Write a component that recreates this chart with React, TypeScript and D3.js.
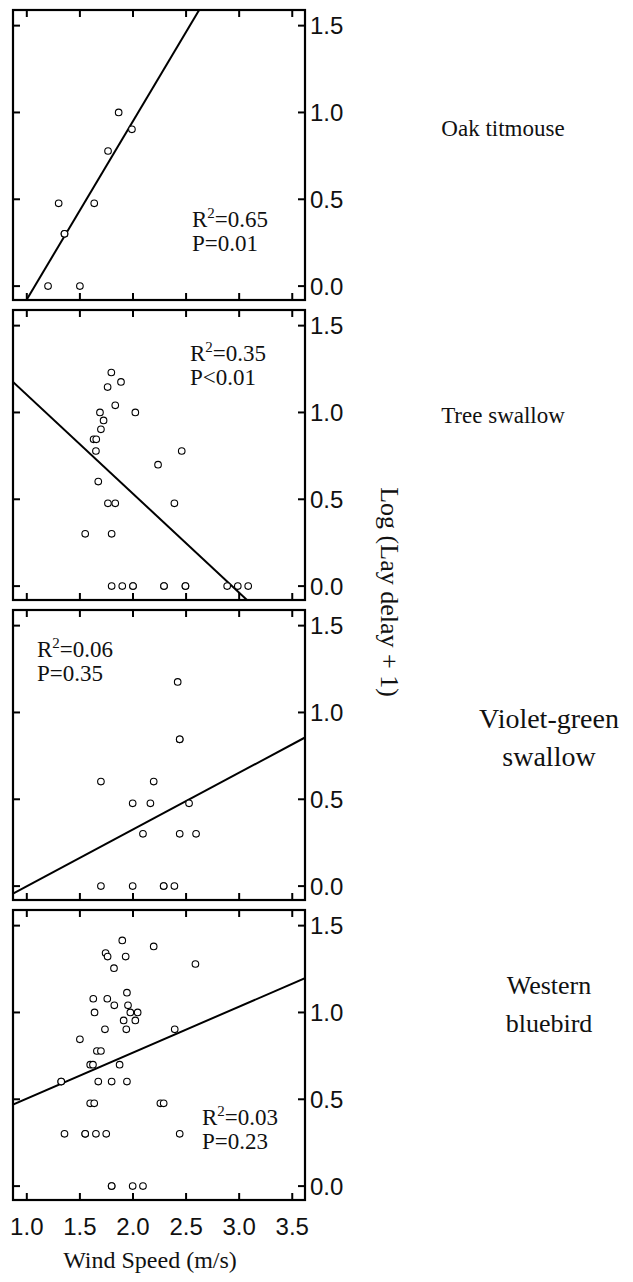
import React from 'react';
import * as d3 from 'd3';

// log(lay delay + 1) against wind speed, one panel per species
const species = ['Oak titmouse', 'Tree swallow', 'Violet-green swallow', 'Western bluebird'];
const labelLines = [['Oak titmouse'], ['Tree swallow'], ['Violet-green', 'swallow'], ['Western', 'bluebird']];

const oakX = [1.2, 1.5, 1.3, 1.635, 1.355, 1.355, 1.765, 1.865, 1.99];
const oakY = [0, 0, 0.477, 0.477, 0.301, 0.301, 0.778, 1.0, 0.903];

const treeX = [1.796, 1.887, 1.761, 1.833, 1.689, 2.022, 1.723, 1.698, 1.629, 1.654,
  1.651, 2.459, 2.236, 1.673, 1.764, 1.833, 2.39, 1.55, 1.799,
  1.799, 1.899, 2.0, 2.0, 2.292, 2.292, 2.494, 2.494, 2.887, 2.987, 3.085];
const treeY = [1.23, 1.176, 1.146, 1.041, 1.0, 1.0, 0.954, 0.903, 0.845, 0.845,
  0.778, 0.778, 0.699, 0.602, 0.477, 0.477, 0.477, 0.301, 0.301,
  0, 0, 0, 0, 0, 0, 0, 0, 0, 0, 0];

const vgX = [2.421, 2.44, 2.44, 1.698, 2.195, 1.997, 2.164, 2.528, 2.094, 2.44, 2.594, 1.698, 1.997, 2.289, 2.289, 2.39];
const vgY = [1.176, 0.845, 0.845, 0.602, 0.602, 0.477, 0.477, 0.477, 0.301, 0.301, 0.301, 0, 0, 0, 0, 0];

const wbX = [1.899, 2.195, 1.742, 1.761, 1.931, 2.588, 1.821, 1.943, 1.626, 1.758,
  1.824, 1.953, 1.638, 1.975, 2.044, 1.912, 2.022, 1.736, 1.937, 2.393,
  1.5, 1.66, 1.698, 1.597, 1.623, 1.874, 1.324, 1.324, 1.673, 1.799,
  1.943, 1.597, 1.635, 2.258, 2.289, 1.355, 1.55, 1.55, 1.651, 1.748,
  2.44, 1.799, 1.799, 1.997, 2.094];
const wbY = [1.415, 1.38, 1.342, 1.322, 1.322, 1.279, 1.255, 1.114, 1.079, 1.079,
  1.041, 1.041, 1.0, 1.0, 1.0, 0.954, 0.954, 0.903, 0.903, 0.903,
  0.845, 0.778, 0.778, 0.699, 0.699, 0.699, 0.602, 0.602, 0.602, 0.602,
  0.602, 0.477, 0.477, 0.477, 0.477, 0.301, 0.301, 0.301, 0.301, 0.301,
  0.301, 0, 0, 0, 0];

const xValues = [oakX, treeX, vgX, wbX];
const yValues = [oakY, treeY, vgY, wbY];

// fitted regression lines
const slopes = [1.027, -0.57, 0.327, 0.2645];
const intercepts = [-1.104, 1.672, -0.328, 0.24];
const r2Labels = ['0.65', '0.35', '0.06', '0.03'];
const pLabels = ['P=0.01', 'P<0.01', 'P=0.35', 'P=0.23'];

const xTicks = [1.0, 1.5, 2.0, 2.5, 3.0, 3.5];
const yTicks = [0.0, 0.5, 1.0, 1.5];

const W = 633;
const H = 1282;
const left = 13;
const right = 305;
const firstTop = 10;
const panelH = 290;
const step = 300;
const tick = 7;

const serif = '"Liberation Serif", "Times New Roman", serif';
const sans = '"Liberation Sans", Arial, sans-serif';

// where the R2 / P text sits in each panel (x, baseline offset from panel top)
const statPos = [[192, 217], [190, 51], [37, 47], [202, 215]];
// species label placement: centre x, first baseline, font size
const labelPos = [[503, 136, 23], [503, 423, 23], [549, 728, 28], [549, 994, 26]];

export default function App() {
  const x = d3.scaleLinear().domain([0.87, 3.62]).range([left, right]);

  return (
    <svg width={W} height={H} style={{ display: 'block', position: 'absolute', left: 0, top: 0 }}>
      <rect width={W} height={H} fill="white" />
      {species.map((name, i) => {
        const top = firstTop + i * step;
        const bottom = top + panelH;
        const y = d3.scaleLinear().domain([-0.08, 1.59]).range([bottom, top]);
        const fit = d3.line<number>()
          .x(d => x(d))
          .y(d => y(slopes[i] * d + intercepts[i]));
        const [sx, sy] = statPos[i];
        const [lx, ly, lsize] = labelPos[i];
        return (
          <g key={name}>
            <defs>
              <clipPath id={`clip${i}`}>
                <rect x={left} y={top} width={right - left} height={panelH} />
              </clipPath>
            </defs>
            <path d={fit(x.domain()) || ''} stroke="black" strokeWidth={2} fill="none" clipPath={`url(#clip${i})`} />
            {xValues[i].map((v, j) => (
              <circle key={j} cx={x(v)} cy={y(yValues[i][j])} r={3.3} fill="white" stroke="black" strokeWidth={1.1} />
            ))}
            <rect x={left} y={top} width={right - left} height={panelH} fill="none" stroke="black" strokeWidth={2.2} />
            {xTicks.map(t => (
              <g key={t}>
                <line x1={x(t)} x2={x(t)} y1={top} y2={top + tick} stroke="black" strokeWidth={2} />
                <line x1={x(t)} x2={x(t)} y1={bottom} y2={bottom - tick} stroke="black" strokeWidth={2} />
              </g>
            ))}
            {yTicks.map(t => (
              <g key={t}>
                <line x1={left} x2={left + tick} y1={y(t)} y2={y(t)} stroke="black" strokeWidth={2} />
                <line x1={right} x2={right - tick} y1={y(t)} y2={y(t)} stroke="black" strokeWidth={2} />
                <text x={right + 5} y={y(t)} dy="0.36em" fontFamily={sans} fontSize={24} fill="#111">
                  {d3.format('.1f')(t)}
                </text>
              </g>
            ))}
            <text x={sx} y={top + sy} fontFamily={serif} fontSize={23} fill="#111">
              R<tspan dy={-9} fontSize={15}>2</tspan><tspan dy={9}>={r2Labels[i]}</tspan>
            </text>
            <text x={sx} y={top + sy + 24} fontFamily={serif} fontSize={23} fill="#111">{pLabels[i]}</text>
            {labelLines[i].map((line, k) => (
              <text key={k} x={lx} y={ly + k * 38}
                textAnchor="middle" fontFamily={serif} fontSize={lsize} fill="#111">{line}</text>
            ))}
          </g>
        );
      })}
      {xTicks.map(t => (
        <text key={t} x={x(t)} y={1235} textAnchor="middle" fontFamily={sans} fontSize={24} fill="#111">
          {d3.format('.1f')(t)}
        </text>
      ))}
      <text x={150} y={1268} textAnchor="middle" fontFamily={serif} fontSize={24} fill="#111">Wind Speed (m/s)</text>
      <text transform="translate(381,592) rotate(90)" textAnchor="middle" fontFamily={serif} fontSize={26} fill="#111">
        Log (Lay delay + 1)
      </text>
    </svg>
  );
}
